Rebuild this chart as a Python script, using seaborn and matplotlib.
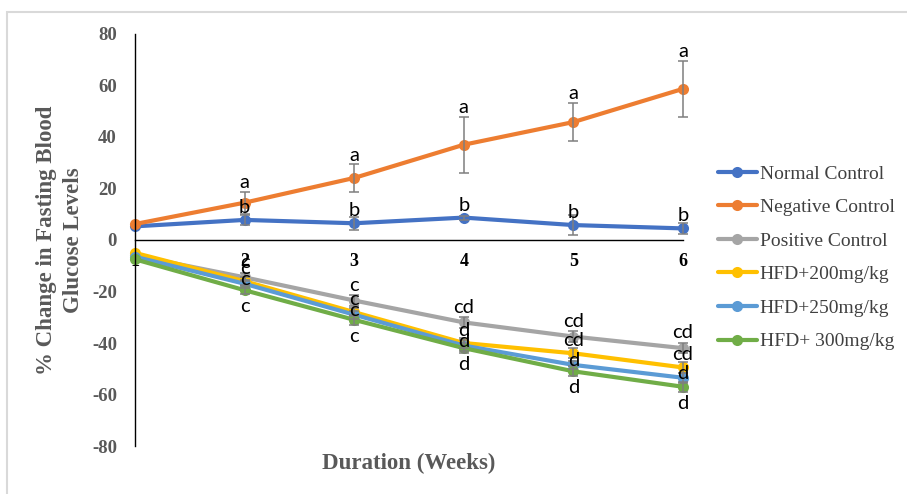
import numpy as np
import pandas as pd
import matplotlib
matplotlib.use("Agg")
import matplotlib.pyplot as plt
from matplotlib.patches import Rectangle
import seaborn as sns

# data (% change in fasting blood glucose)
weeks = [1, 2, 3, 4, 5, 6]
groups = ["Normal Control", "Negative Control", "Positive Control",
          "HFD+200mg/kg", "HFD+250mg/kg", "HFD+ 300mg/kg"]

normal = [5.3, 7.8, 6.5, 8.7, 5.8, 4.5]
negative = [6.2, 14.5, 24.1, 37.0, 45.8, 58.7]
positive = [-6.0, -14.5, -23.5, -32.0, -37.5, -42.0]
hfd200 = [-5.0, -16.0, -28.0, -40.0, -44.0, -49.5]
hfd250 = [-6.5, -17.0, -29.0, -41.0, -48.5, -53.5]
hfd300 = [-7.5, -19.5, -31.0, -42.0, -51.0, -57.0]

normal_err = [0, 2.0, 2.5, 0.8, 3.9, 2.0]
negative_err = [0, 4.3, 5.3, 10.9, 7.4, 10.9]
positive_err = [0, 1.5, 2.0, 2.0, 2.0, 2.0]
hfd200_err = [0, 1.5, 1.5, 2.0, 2.0, 2.0]
hfd250_err = [0, 1.5, 1.5, 2.0, 1.5, 2.0]
hfd300_err = [0, 1.5, 2.0, 2.0, 2.0, 2.0]

normal_sig = ["", "b", "b", "b", "b", "b"]
negative_sig = ["", "a", "a", "a", "a", "a"]
positive_sig = ["", "c", "c", "cd", "cd", "cd"]
hfd200_sig = ["", "c", "c", "d", "cd", "cd"]
hfd250_sig = ["", "c", "c", "d", "d", "d"]
hfd300_sig = ["", "c", "c", "d", "d", "d"]

colors = ["#4472C4", "#ED7D31", "#A5A5A5", "#FFC000", "#5B9BD5", "#70AD47"]

values = [normal, negative, positive, hfd200, hfd250, hfd300]
errors = [normal_err, negative_err, positive_err, hfd200_err, hfd250_err, hfd300_err]
sigs = [normal_sig, negative_sig, positive_sig, hfd200_sig, hfd250_sig, hfd300_sig]
# label offset in points (relative to point, or error top for negative control)
label_offsets = [9, 6.5, 11, 9, 3, -12]

rows = []
for g, vals, errs in zip(groups, values, errors):
    for w, v, e in zip(weeks, vals, errs):
        rows.append({"week": w, "value": v, "err": e, "group": g})
df = pd.DataFrame(rows)

sns.set_theme(style="white")
plt.rcParams["font.family"] = ["Liberation Serif", "DejaVu Serif"]
plt.rcParams["axes.unicode_minus"] = False

fig = plt.figure(figsize=(9.07, 4.94), dpi=100)
ax = fig.add_axes([135 / 907, 1 - 446 / 494, (683 - 135) / 907, 412 / 494])

sns.lineplot(data=df, x="week", y="value", hue="group", hue_order=groups,
             palette=colors, marker="o", markersize=8, markeredgewidth=0,
             linewidth=3, ax=ax)
for line in ax.lines:
    line.set_clip_on(False)

# error bars
for g, vals, errs in zip(groups, values, errors):
    sub_w = [w for w, e in zip(weeks, errs) if e > 0]
    sub_v = [v for v, e in zip(vals, errs) if e > 0]
    sub_e = [e for e in errs if e > 0]
    ax.errorbar(sub_w, sub_v, yerr=sub_e, fmt="none", ecolor="#7f7f7f",
                elinewidth=1.1, capsize=3.5, capthick=1.1, zorder=5, clip_on=False)

# significance letters
for i, (vals, errs, sig) in enumerate(zip(values, errors, sigs)):
    for w, v, e, s in zip(weeks, vals, errs, sig):
        if not s:
            continue
        base = v + e if i == 1 else v
        ax.annotate(s, (w, base), xytext=(0, label_offsets[i]), textcoords="offset points",
                    ha="center", va="center", fontsize=14.5, family=["Lato", "DejaVu Sans"],
                    color="black", zorder=6, annotation_clip=False)

ax.set_xlim(1, 6)
ax.set_ylim(-80, 80)
ax.set_yticks(np.arange(-80, 81, 20))
ax.set_xticks(weeks)
ax.set_xticklabels([str(w) for w in weeks])

ax.spines["right"].set_visible(False)
ax.spines["top"].set_visible(False)
ax.spines["bottom"].set_position(("data", 0))
for sp in ["left", "bottom"]:
    ax.spines[sp].set_color("black")
    ax.spines[sp].set_linewidth(1.0)

ax.tick_params(axis="y", direction="in", length=4, width=1, color="black", pad=13,
               labelsize=13.5, labelcolor="#595959")
ax.tick_params(axis="x", direction="out", length=4, width=1, color="black", pad=5,
               labelsize=13, labelcolor="black")
for lab in ax.get_yticklabels() + ax.get_xticklabels():
    lab.set_fontweight("bold")

ax.set_xlabel("")
ax.set_ylabel("")
fig.text(409 / 907, 1 - 463 / 494, "Duration (Weeks)", ha="center", va="center",
         fontsize=16.5, fontweight="bold", color="#595959")
fig.text(60 / 907, 1 - 240 / 494, "% Change in Fasting Blood\nGlucose Levels",
         ha="center", va="center", rotation=90, fontsize=16.5, fontweight="bold",
         color="#595959", linespacing=1.35)

handles, labels = ax.get_legend_handles_labels()
ax.legend(handles, labels, loc="upper left", bbox_to_anchor=(718 / 907, 1 - 165 / 494),
          bbox_transform=fig.transFigure, frameon=False, fontsize=14,
          handlelength=2.0, handletextpad=0.15, labelspacing=0.82,
          borderpad=0, borderaxespad=0, labelcolor="#404040")

fig.add_artist(Rectangle((7 / 907, -0.1), 1.2, 1.1 - 12 / 494, transform=fig.transFigure,
                         fill=False, edgecolor="#d9d9d9", linewidth=1.5))

fig.savefig("out.png", dpi=100)
